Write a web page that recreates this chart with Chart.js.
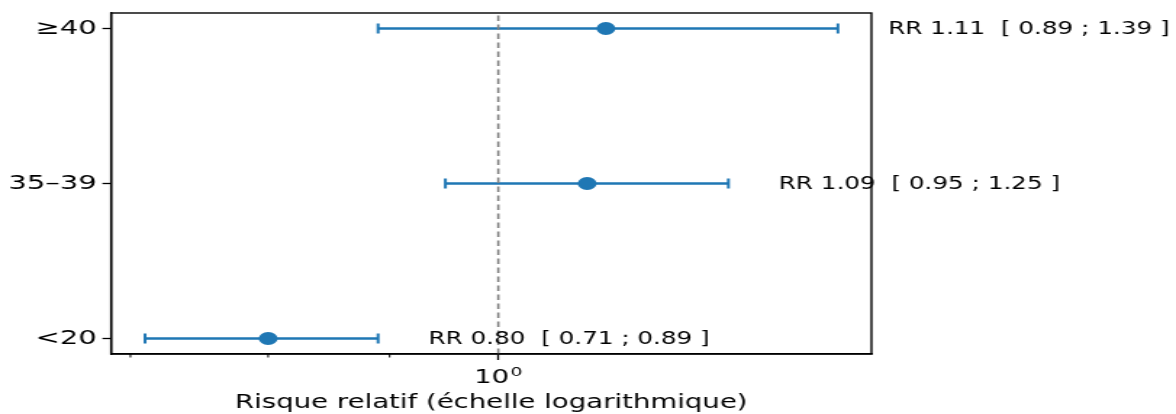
<!DOCTYPE html>
<html>
<head>
<meta charset="utf-8">
<script src="https://cdn.jsdelivr.net/npm/chart.js@4/dist/chart.umd.min.js"></script>
<style>
    html, body { margin: 0; padding: 0; background: #fff; overflow: hidden; }
    #wrap { width: 811px; height: 414px; transform: scaleX(1.45006); transform-origin: 0 0; }
</style>
</head>
<body>
<div id="wrap"><canvas id="chart" width="811" height="414"></canvas></div>
<script>
const groups = ["<20", "35–39", "≥40"];
const rr = [0.80, 1.09, 1.11];
const lo = [0.71, 0.95, 0.89];
const hi = [0.89, 1.25, 1.39];
const xTicks = [0.7, 0.8, 0.9, 1];
const refValue = 1;

const blue = "#1f77b4";
const font = "DejaVu Sans";

// one line per group for the confidence interval, caps drawn as rotated "line" points
const ciSets = groups.map((g, i) => ({
    type: "line",
    data: [{ x: lo[i], y: i }, { x: hi[i], y: i }],
    borderColor: blue,
    borderWidth: 2.6,
    pointStyle: "line",
    pointRotation: 90,
    pointRadius: 5,
    pointBorderWidth: 2,
    pointBorderColor: blue,
    order: 2,
}));

const labelPlugin = {
    id: "labels",
    afterDatasetsDraw(chart) {
        const { ctx, chartArea: a, scales } = chart;
        ctx.save();
        // frame
        ctx.strokeStyle = "#000";
        ctx.lineWidth = 1.4;
        ctx.strokeRect(a.left, a.top, a.right - a.left, a.bottom - a.top);
        // minor ticks
        xTicks.forEach((v) => {
            if (v === 1) return;
            const px = scales.x.getPixelForValue(v);
            ctx.lineWidth = 1;
            ctx.beginPath();
            ctx.moveTo(px, a.bottom);
            ctx.lineTo(px, a.bottom + 3.5);
            ctx.stroke();
        });
        ctx.fillStyle = "#000";
        // "10^0" tick label with a real superscript
        const px1 = scales.x.getPixelForValue(refValue);
        ctx.font = "19px '" + font + "'";
        const w1 = ctx.measureText("10").width;
        ctx.font = "13px '" + font + "'";
        const w2 = ctx.measureText("0").width;
        const x0 = px1 - (w1 + w2 + 1) / 2;
        ctx.textAlign = "left";
        ctx.textBaseline = "alphabetic";
        ctx.font = "19px '" + font + "'";
        ctx.fillText("10", x0, a.bottom + 29);
        ctx.font = "13px '" + font + "'";
        ctx.fillText("0", x0 + w1 + 1, a.bottom + 22);
        // RR texts
        ctx.font = "17px '" + font + "'";
        ctx.textBaseline = "middle";
        groups.forEach((g, i) => {
            const txt = `RR ${rr[i].toFixed(2)}  [ ${lo[i].toFixed(2)} ; ${hi[i].toFixed(2)} ]`;
            ctx.fillText(txt, scales.x.getPixelForValue(hi[i] * 1.05), scales.y.getPixelForValue(i) + 1);
        });
        ctx.restore();
    },
};

new Chart(document.getElementById("chart"), {
    type: "scatter",
    data: {
        datasets: [
            {
                type: "line",
                data: [{ x: refValue, y: -0.1 }, { x: refValue, y: 2.1 }],
                borderColor: "#808080",
                borderWidth: 1.6,
                borderDash: [5.5, 3.5],
                pointRadius: 0,
                order: 0,
            },
            {
                data: rr.map((v, i) => ({ x: v, y: i })),
                backgroundColor: blue,
                borderColor: blue,
                pointRadius: 6.5,
                pointBorderWidth: 0,
                order: 1,
            },
            ...ciSets,
        ],
    },
    options: {
        responsive: false,
        animation: false,
        layout: { padding: { top: 13, right: 210, left: 0, bottom: 0 } },
        plugins: { legend: { display: false }, tooltip: { enabled: false } },
        scales: {
            x: {
                type: "logarithmic",
                min: 0.687,
                max: 1.436,
                afterBuildTicks: (scale) => {
                    scale.ticks = xTicks.map((v) => ({ value: v }));
                },
                afterFit: (scale) => {
                    scale.height = 60;
                    scale.paddingLeft = 0;
                    scale.paddingRight = 0;
                },
                ticks: {
                    autoSkip: false,
                    maxRotation: 0,
                    padding: 3,
                    color: "#000",
                    font: { family: font, size: 19 },
                    // drawn by the plugin with a proper superscript
                    callback: () => "",
                },
                grid: {
                    drawOnChartArea: false,
                    tickLength: 6,
                    tickWidth: 1.3,
                    tickColor: (c) => (c.tick && c.tick.value === 1 ? "#000" : "rgba(0,0,0,0)"),
                },
                border: { color: "#000", width: 1.4 },
                title: {
                    display: true,
                    text: "Risque relatif (échelle logarithmique)",
                    color: "#000",
                    font: { family: font, size: 19 },
                    padding: { top: 0, bottom: 0 },
                },
            },
            y: {
                type: "linear",
                min: -0.1,
                max: 2.1,
                afterBuildTicks: (scale) => {
                    scale.ticks = groups.map((g, i) => ({ value: i }));
                },
                afterFit: (scale) => {
                    scale.width = 76.6;
                    scale.paddingTop = 0;
                    scale.paddingBottom = 0;
                },
                ticks: {
                    padding: 4,
                    color: "#000",
                    font: { family: font, size: 20 },
                    callback: (v) => groups[v] ?? "",
                },
                grid: {
                    drawOnChartArea: false,
                    tickLength: 6,
                    tickWidth: 1.3,
                    tickColor: "#000",
                },
                border: { color: "#000", width: 1.4 },
            },
        },
    },
    plugins: [labelPlugin],
});
</script>
</body>
</html>
